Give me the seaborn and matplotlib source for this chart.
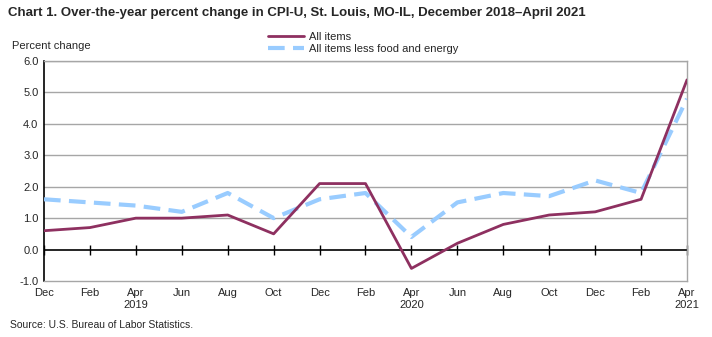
import matplotlib
matplotlib.use("Agg")
import matplotlib.pyplot as plt
import seaborn as sns
import pandas as pd
import numpy as np

months = ["Dec", "Feb", "Apr", "Jun", "Aug", "Oct", "Dec", "Feb", "Apr", "Jun", "Aug", "Oct", "Dec", "Feb", "Apr"]
years = ["", "", "2019", "", "", "", "", "", "2020", "", "", "", "", "", "2021"]
all_items = [0.6, 0.7, 1.0, 1.0, 1.1, 0.5, 2.1, 2.1, -0.6, 0.2, 0.8, 1.1, 1.2, 1.6, 5.4]
core = [1.6, 1.5, 1.4, 1.2, 1.8, 1.0, 1.6, 1.8, 0.4, 1.5, 1.8, 1.7, 2.2, 1.8, 4.8]
series_names = ["All items", "All items less food and energy"]
yticks = [-1.0, 0.0, 1.0, 2.0, 3.0, 4.0, 5.0, 6.0]

sns.set_theme(style="white")
plt.rcParams['font.family'] = ['Liberation Sans', 'DejaVu Sans']

idx = list(range(len(months)))
df = pd.DataFrame({
    "x": idx * 2,
    "value": all_items + core,
    "series": [series_names[0]] * len(idx) + [series_names[1]] * len(idx),
})

fig = plt.figure(figsize=(7.12, 3.37), dpi=100)
ax = fig.add_axes([44/712, 1-281/337, (687-44)/712, (281-61)/337])

palette = {series_names[0]: "#8e3060", series_names[1]: "#99ccff"}
sns.lineplot(data=df, x="x", y="value", hue="series", style="series",
             palette=palette, dashes={series_names[0]: "", series_names[1]: (4, 2)},
             ax=ax, legend=False)
lines = ax.get_lines()
lines[0].set_linewidth(2.0)
lines[1].set_linewidth(3.0)
lines[0].set_zorder(4)
lines[1].set_zorder(3)

ax.set_xlim(0, len(idx) - 1)
ax.set_ylim(-1, 6)
ax.set_yticks(yticks)
ax.set_yticklabels([f"{v:.1f}" for v in yticks], fontsize=8)
for v in yticks[2:]:
    ax.axhline(v, color="#a6a6a6", lw=1, zorder=1)
ax.axhline(0, color="black", lw=1.2, zorder=2)

ax.set_xticks(idx)
ax.set_xticklabels([m + ("\n" + y if y else "") for m, y in zip(months, years)],
                   fontsize=8, va="top", linespacing=1.2)
ax.tick_params(axis="x", length=0, pad=5)
ax.tick_params(axis="y", length=0, pad=4)
ax.set_xlabel("")
ax.set_ylabel("")

for s in ["top", "right", "bottom"]:
    ax.spines[s].set_color("#a6a6a6")
    ax.spines[s].set_linewidth(1)
ax.spines["left"].set_color("black")
ax.spines["left"].set_linewidth(1.2)

sec = ax.secondary_xaxis(1/7)
sec.set_xticks(idx)
sec.set_xticklabels([])
sec.tick_params(axis="x", direction="inout", length=7, width=1, color="black")
sec.spines["bottom"].set_visible(False)
sec.spines["top"].set_visible(False)

fig.text(8/712, 1-13/337, "Chart 1. Over-the-year percent change in CPI-U, St. Louis, MO-IL, December 2018\u2013April 2021",
         fontsize=9.5, fontweight="bold", va="center", ha="left")
fig.text(12/712, 1-46/337, "Percent change", fontsize=8, va="center", ha="left")
fig.text(10/712, 1-325/337, "Source: U.S. Bureau of Labor Statistics.", fontsize=7.5, va="center", ha="left")

from matplotlib.lines import Line2D
handles = [Line2D([], [], color=palette[series_names[0]], lw=2),
           Line2D([], [], color=palette[series_names[1]], lw=3, dashes=(4, 2))]
fig.legend(handles, series_names, loc="center left", bbox_to_anchor=(268/712, 1-43/337),
           frameon=False, fontsize=8, handlelength=3.2, handletextpad=0.5,
           labelspacing=0.15, borderaxespad=0, borderpad=0)

fig.savefig("out.png", dpi=100)
